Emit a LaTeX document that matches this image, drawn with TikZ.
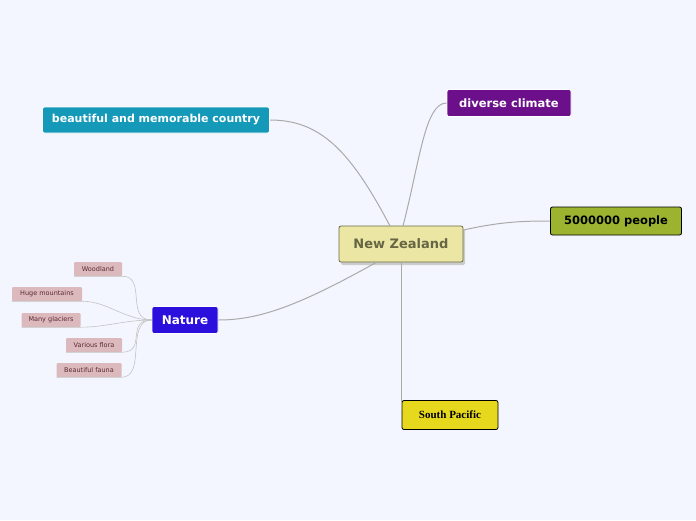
\documentclass[tikz,border=0pt]{standalone}
\usepackage{fontspec}
\setmainfont{DejaVu Sans}
\newfontfamily\serifb{Liberation Serif}
\definecolor{bg}{HTML}{F3F6FE}
\definecolor{lnk}{HTML}{AAAAAA}
\begin{document}
\begin{tikzpicture}[x=1pt,y=-1pt,
 box/.style={draw,rounded corners=2pt,line width=0.8pt,font=\bfseries,inner sep=0pt,anchor=center},
 leaf/.style={fill=leafc,rounded corners=1pt,inner sep=0pt,font=\fontsize{6.5}{7}\selectfont,text=leaft,anchor=center},
 con/.style={draw=lnk,line width=1pt},
 sub/.style={draw=lnk!70,line width=0.6pt}]
\definecolor{leafc}{HTML}{DCB9BD}\definecolor{leaft}{HTML}{5A2A33}
\fill[bg] (0,0) rectangle (696,520);
\node[box,fill=black!20,draw=none,minimum width=124,minimum height=36] at (403,247) {};
\node[box,fill={rgb,255:red,235;green,230;blue,163},draw={rgb,255:red,107;green,107;blue,74},text={rgb,255:red,102;green,102;blue,68},minimum width=124,minimum height=36,font=\bfseries\fontsize{13}{15}\selectfont] (nz) at (401,244) {New Zealand};
\node[box,fill={rgb,255:red,20;green,153;blue,184},draw=white,text=white,minimum width=227,minimum height=26,font=\bfseries\fontsize{11}{13}\selectfont] (bc) at (156,120) {beautiful and memorable country};
\node[box,fill={rgb,255:red,107;green,15;blue,138},draw=white,text=white,minimum width=124,minimum height=27,font=\bfseries\fontsize{11.5}{13}\selectfont] (dc) at (509,103) {diverse climate};
\node[box,fill={rgb,255:red,155;green,179;blue,46},draw=black,text=black,minimum width=131,minimum height=28,font=\bfseries\fontsize{11.5}{13}\selectfont] (pp) at (616,221) {5000000 people};
\node[box,fill={rgb,255:red,230;green,216;blue,28},draw=black,text=black,minimum width=96,minimum height=29,font=\serifb\bfseries\fontsize{11}{13}\selectfont] (sp) at (450,415) {South Pacific};
\node[box,fill={rgb,255:red,42;green,15;blue,221},draw=white,text=white,minimum width=66,minimum height=27,font=\bfseries\fontsize{12}{14}\selectfont] (na) at (185,320) {Nature};
\node[leaf,minimum width=48,minimum height=14] (w) at (98,269) {Woodland};
\node[leaf,minimum width=70,minimum height=14] (h) at (47,294) {Huge mountains};
\node[leaf,minimum width=59,minimum height=14] (m) at (51,320) {Many glaciers};
\node[leaf,minimum width=56,minimum height=14] (f) at (94,345) {Various flora};
\node[leaf,minimum width=65,minimum height=14] (b) at (89,370) {Beautiful fauna};
\begin{scope}[on background layer/.style={}]
\draw[con] (390,226) .. controls (350,150) and (320,120) .. (bc.east);
\draw[con] (403,226) .. controls (420,160) and (425,103) .. (dc.west);
\draw[con] (nz.east|-0,230) .. controls (500,222) and (520,221) .. (pp.west);
\draw[con] (377,262) .. controls (300,305) and (260,320) .. (na.east);
\draw[con] (401,262) -- (401,410);
\foreach \n in {w,h,m,f,b}{
 \draw[sub] (\n.south west) -- (\n.south east) .. controls ([xshift=25]\n.south east) and (125,320) .. (na.west);}
\end{scope}
\end{tikzpicture}
\end{document}
